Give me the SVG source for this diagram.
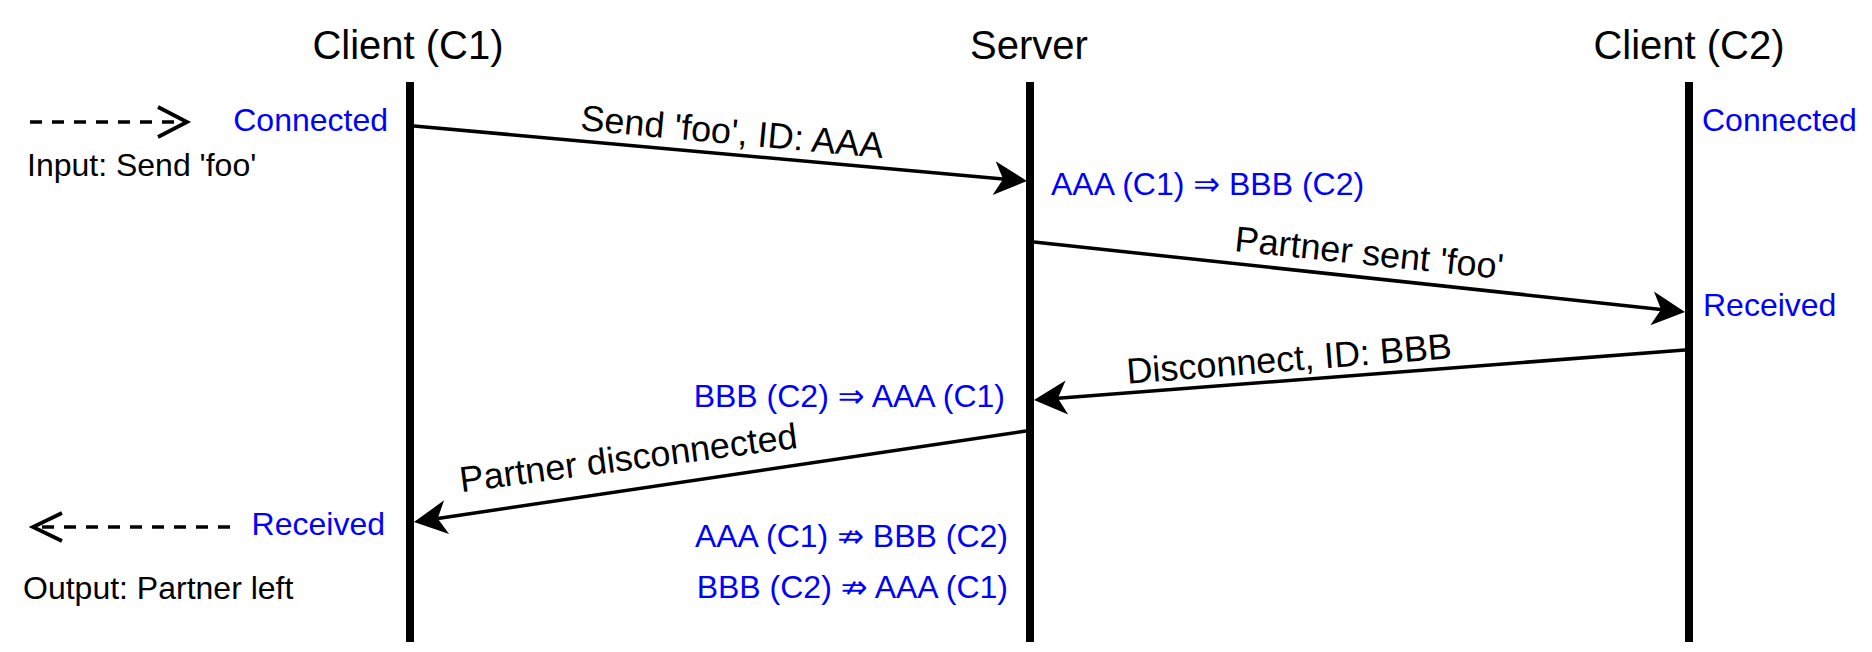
<svg xmlns="http://www.w3.org/2000/svg" width="1872" height="652" viewBox="0 0 1872 652">
  <style>
    text { font-family: "Liberation Sans", Arial, "DejaVu Sans", sans-serif; }
    .title { font-size: 40px; fill: #000; text-anchor: middle; }
    .state { font-size: 32px; fill: #0000FF; }
    .msg { font-size: 36px; fill: #000; text-anchor: middle; }
    .note { font-size: 32px; fill: #000; }
    .life { stroke: #000; stroke-width: 8; fill: none; }
    .arrow { stroke: #000; stroke-width: 3.5; fill: none; marker-end: url(#head); }
    .dash { stroke: #000; stroke-width: 3.6; fill: none; stroke-dasharray: 12 10; }
    .chev { stroke: #000; stroke-width: 3.8; fill: none; stroke-linecap: butt; stroke-linejoin: miter; }
  </style>
  <defs>
    <marker id="head" markerUnits="userSpaceOnUse" viewBox="-10 -18 36 36" markerWidth="36" markerHeight="36" refX="0" refY="0" orient="auto" overflow="visible">
      <path d="M24,0 L-9,-17 L0,0 L-9,17 Z" fill="#000"/>
    </marker>
  </defs>
  <rect x="0" y="0" width="1872" height="652" fill="#fff"/>

  <g id="client-c1">
    <text class="title" x="408" y="59">Client (C1)</text>
    <line class="life" x1="410" y1="82" x2="410" y2="642"/>
    <text class="state" x="388" y="131" text-anchor="end">Connected</text>
    <text class="state" x="385" y="535" text-anchor="end">Received</text>
  </g>

  <g id="server">
    <text class="title" x="1029" y="59">Server</text>
    <line class="life" x1="1030" y1="82" x2="1030" y2="642"/>
    <text class="state" x="1051" y="195">AAA (C1) ⇒ BBB (C2)</text>
    <text class="state" x="1005" y="407" text-anchor="end">BBB (C2) ⇒ AAA (C1)</text>
    <text class="state" x="1008" y="547" text-anchor="end">AAA (C1) ⇏ BBB (C2)</text>
    <text class="state" x="1008" y="598" text-anchor="end">BBB (C2) ⇏ AAA (C1)</text>
  </g>

  <g id="client-c2">
    <text class="title" x="1689" y="59">Client (C2)</text>
    <line class="life" x1="1689" y1="82" x2="1689" y2="642"/>
    <text class="state" x="1702" y="131">Connected</text>
    <text class="state" x="1703" y="316">Received</text>
  </g>

  <g id="input">
    <line class="dash" x1="30" y1="122" x2="176" y2="122"/>
    <polyline class="chev" points="158,107 187,122 158,137"/>
    <text class="note" x="27" y="176">Input: Send 'foo'</text>
  </g>

  <g id="output">
    <line class="dash" x1="230" y1="527" x2="36" y2="527"/>
    <polyline class="chev" points="62,513 33,527 62,541"/>
    <text class="note" x="23" y="599">Output: Partner left</text>
  </g>

  <g id="connectors">
    <line class="arrow" x1="414" y1="126" x2="1003.1" y2="178.9"/>
    <line class="arrow" x1="1034" y1="242" x2="1661.1" y2="309.4"/>
    <line class="arrow" x1="1685" y1="350" x2="1057.9" y2="398.2"/>
    <line class="arrow" x1="1026" y1="431" x2="437.7" y2="518.5"/>
    <text class="msg" transform="translate(731,144) rotate(5.3)">Send 'foo', ID: AAA</text>
    <text class="msg" transform="translate(1368,265) rotate(6)">Partner sent 'foo'</text>
    <text class="msg" transform="translate(1290,371) rotate(-4.5)">Disconnect, ID: BBB</text>
    <text class="msg" transform="translate(630,470) rotate(-7.5)">Partner disconnected</text>
  </g>
</svg>
